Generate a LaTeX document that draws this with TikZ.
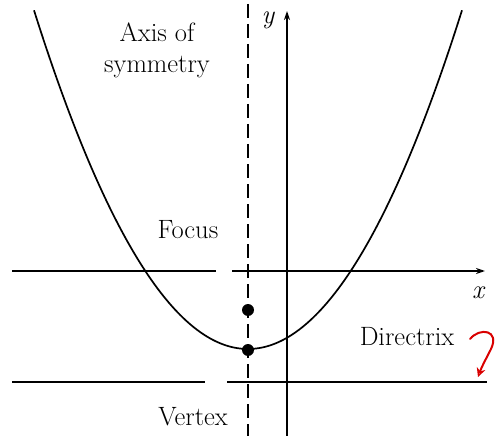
\documentclass[tikz,border=0pt]{standalone}
\usetikzlibrary{arrows.meta}
\begin{document}
\begin{tikzpicture}[x=1pt,y=-1pt,
  lbl/.style={font=\fontsize{26.5}{30}\selectfont, inner sep=0pt, anchor=base},
  axisline/.style={line width=1.8pt, black},
  arr/.style={-{Stealth[length=9pt,width=6pt]}},
  dot/.style={circle, fill=black, minimum size=12pt, inner sep=0pt}]
\useasboundingbox (0,0) rectangle (496,436);
% coordinates
\coordinate (xl) at (12,271);
\coordinate (xg1) at (216,271);
\coordinate (xg2) at (232,271);
\coordinate (xr) at (485,271);
\coordinate (dl) at (12,382);
\coordinate (dg1) at (205,382);
\coordinate (dg2) at (227,382);
\coordinate (dr) at (487,382);
\coordinate (yb) at (287,436);
\coordinate (yt) at (287,11);
\coordinate (at) at (248,4);
\coordinate (ab) at (248,436);
% axis of symmetry
\draw[line width=1.4pt, dash pattern=on 14pt off 6pt] (at) -- (ab);
% axes
\draw[axisline] (xl) -- (xg1);
\draw[axisline, arr] (xg2) -- (xr);
\draw[axisline, arr] (yb) -- (yt);
% directrix
\draw[axisline] (dl) -- (dg1);
\draw[axisline] (dg2) -- (dr);
% parabola
\draw[line width=1.7pt, smooth, samples=80, domain=-214:214] plot ({248+\x},{349-(0.086*\x)*(0.086*\x)});
% points
\node[dot] (focus) at (248,310) {};
\node[dot] (vertex) at (248,350) {};
% labels
\node[lbl] (axA) at (157,42) {Axis of};
\node[lbl] (axB) at (157,73) {symmetry};
\node[lbl] (ylab) at (268,24) {\itshape y};
\node[lbl] (xlab) at (478,298) {\itshape x};
\node[lbl] (flab) at (188,238) {Focus};
\node[lbl] (dlab) at (407,345) {Directrix};
\node[lbl] (vlab) at (193,425) {Vertex};
% red handwritten arrow
\coordinate (rs) at (470,339);
\coordinate (re) at (478,377);
\draw[red!85!black, line width=2pt, line cap=round, -{Stealth[length=9pt,width=9pt,open]}]
  (rs) .. controls (480,327) and (500,330) .. (491,349)
       .. controls (487,357) and (482,366) .. (re);
\end{tikzpicture}
\end{document}
